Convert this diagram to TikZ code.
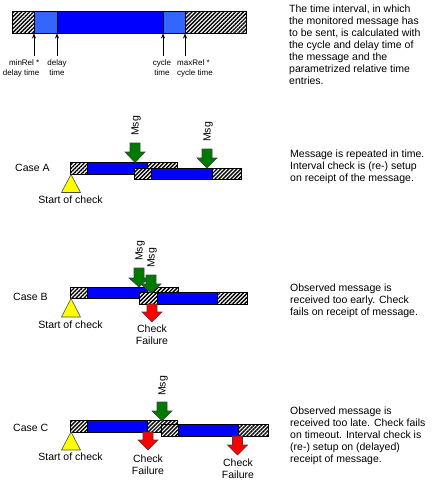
\documentclass[tikz,border=0pt]{standalone}
\usepackage{fontspec}
\setmainfont{Liberation Sans}
\usetikzlibrary{arrows.meta, positioning, patterns.meta}
\definecolor{WinBlue}{RGB}{0,0,255}
\definecolor{TolBlue}{RGB}{51,102,255}
\definecolor{MsgGreen}{RGB}{0,122,0}
\definecolor{FailRed}{RGB}{255,0,0}
\definecolor{StartYellow}{RGB}{255,255,0}

\begin{document}
\begin{tikzpicture}[
  x=1pt, y=-1pt,
  hatch/.style={
    draw=black, line width=0.8pt,
    preaction={fill=white},
    pattern={Lines[angle=45, distance=2.8pt, line width=1.4pt]}
  },
  win/.style={draw=black, line width=0.8pt, fill=WinBlue},
  tol/.style={draw=black, line width=0.8pt, fill=TolBlue},
  msgarrow/.style={draw=black!75, line width=0.6pt, fill=MsgGreen},
  failarrow/.style={draw=black!75, line width=0.6pt, fill=FailRed},
  startmark/.style={draw=black!70, line width=0.6pt, fill=StartYellow},
  tick/.style={-{Stealth[length=5pt, width=4pt]}, line width=0.6pt},
  desc/.style={font=\fontsize{10.5}{12}\selectfont, align=left,
    anchor=base west, inner sep=0pt},
  lbl/.style={font=\fontsize{10.5}{12}\selectfont, align=center,
    inner sep=0pt},
  small/.style={font=\fontsize{8}{10}\selectfont, inner sep=0pt},
  msgtext/.style={font=\fontsize{10.5}{12}\selectfont, rotate=90,
    anchor=west, inner sep=0pt}
]
\useasboundingbox (0,0) rectangle (442,485);

% top: the time interval
\draw[hatch] (12,11) rectangle (34,33);
\draw[tol] (34,11) rectangle (57,33);
\draw[win] (57,11) rectangle (163,33);
\draw[tol] (163,11) rectangle (185,33);
\draw[hatch] (185,11) rectangle (246,33);

\foreach \x/\n in {34/minrel, 57/delay, 163/cycle, 185/maxrel}
  \coordinate (\n) at (\x,33.5);
\foreach \n in {minrel, delay, cycle, maxrel}
  \draw[tick] ([yshift=-22.5pt]\n) -- (\n);

% (base of a multi-line node = its last line)
\node[small, align=right, anchor=base east] (lminrel) at (39.5,75)
  {minRel *\\delay time};
\node[small, align=center, anchor=base] (ldelay) at (57,75)
  {delay\\time};
\node[small, align=center, anchor=base] (lcycle) at (162,75)
  {cycle\\time};
\node[small, align=left, anchor=base west] (lmaxrel) at (177,75)
  {maxRel *\\cycle time};

\node[desc] (intro) at (289,84.5)
  {The time interval, in which\\the monitored message has\\to be sent, is calculated with\\the cycle and delay time of\\the message and the\\parametrized relative time\\entries.};

% case A
\node[lbl, anchor=base west] (caseA) at (15,171) {Case A};
\draw[hatch] (70.5,162.5) rectangle (87,174);
\draw[win] (87,162.5) rectangle (147,174);
\draw[hatch] (147,162.5) rectangle (177.5,174);
\draw[hatch] (134,168) rectangle (151,179.5);
\draw[win] (151,168) rectangle (212,179.5);
\draw[hatch] (212,168) rectangle (241,179.5);
\draw[startmark] (71,174.5) -- (80.5,192.5) -- (61.5,192.5) -- cycle;
\node[lbl, anchor=base] (startA) at (70.5,203) {Start of check};
\node[desc] (descA) at (290,181)
  {Message is repeated in time.\\Interval check is (re-) setup\\on receipt of the message.};

% case B
\node[lbl, anchor=base west] (caseB) at (13,300) {Case B};
\draw[hatch] (70.5,287) rectangle (87,298.5);
\draw[win] (87,287) rectangle (147,298.5);
\draw[hatch] (147,287) rectangle (178,298.5);
\draw[hatch] (139,292.5) rectangle (157,304);
\draw[win] (157,292.5) rectangle (217,304);
\draw[hatch] (217,292.5) rectangle (247,304);
\draw[startmark] (71,298.5) -- (80.5,317) -- (61.5,317) -- cycle;
\node[lbl, anchor=base] (startB) at (70.5,328) {Start of check};
\node[desc] (descB) at (290,315)
  {Observed message is\\received too early. Check\\fails on receipt of message.};

% case C
\node[lbl, anchor=base west] (caseC) at (13,431) {Case C};
\draw[hatch] (70.5,420.5) rectangle (87,432);
\draw[win] (87,420.5) rectangle (147,432);
\draw[hatch] (147,420.5) rectangle (177,432);
\draw[hatch] (161,424.5) rectangle (178,436);
\draw[win] (178,424.5) rectangle (238,436);
\draw[hatch] (238,424.5) rectangle (268,436);
\draw[startmark] (71,432) -- (80.5,450) -- (61.5,450) -- cycle;
\node[lbl, anchor=base] (startC) at (70.5,460) {Start of check};
\node[desc] (descC) at (290,462.5)
  {Observed message is\\received too late. Check fails\\on timeout. Interval check is\\(re-) setup on (delayed)\\receipt of message.};

% received messages
\foreach \x/\t/\h/\b in {135/143/152/162.5, 207/149/158/168,
    139/268/278/287, 151/275/284/293, 162/402/411/421}
  \draw[msgarrow] (\x-5,\t) -- (\x+5,\t) -- (\x+5,\h) -- (\x+10,\h)
    -- (\x,\b) -- (\x-10,\h) -- (\x-5,\h) -- cycle;
\node[msgtext] (msgA1) at (136,136) {Msg};
\node[msgtext] (msgA2) at (208,142) {Msg};
\node[msgtext] (msgB1) at (140,261) {Msg};
\node[msgtext] (msgB2) at (152,268) {Msg};
\node[msgtext] (msgC) at (163,396) {Msg};

% check failures
\foreach \x/\t/\h/\b in {152/304/312/322, 148/432/440/450,
    237.5/436/445/455}
  \draw[failarrow] (\x-5,\t) -- (\x+5,\t) -- (\x+5,\h) -- (\x+10,\h)
    -- (\x,\b) -- (\x-10,\h) -- (\x-5,\h) -- cycle;
\node[lbl, anchor=base] (failB) at (152,344) {Check\\Failure};
\node[lbl, anchor=base] (failC1) at (148,474) {Check\\Failure};
\node[lbl, anchor=base] (failC2) at (238,478) {Check\\Failure};

\end{tikzpicture}
\end{document}
